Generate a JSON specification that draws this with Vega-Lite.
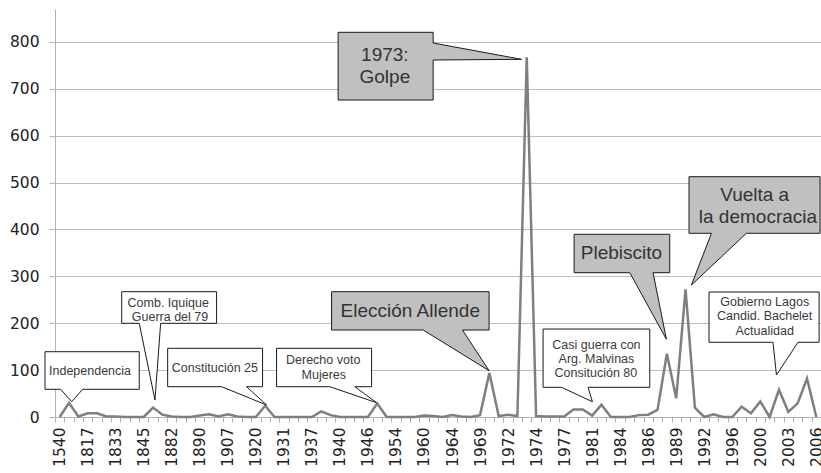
{
  "$schema": "https://vega.github.io/schema/vega-lite/v6.json",
  "autosize": {"type": "none"},
  "padding": {"left": 55, "top": 9, "right": 0, "bottom": 56},
  "width": 766,
  "height": 408,
  "background": "#ffffff",
  "config": {"view": {"stroke": null}},
  "datasets": {
    "serie": [
      {"anio": "1540", "valor": 0}, {"anio": "1810", "valor": 30}, {"anio": "1814", "valor": 1},
      {"anio": "1817", "valor": 8}, {"anio": "1818", "valor": 8}, {"anio": "1823", "valor": 1},
      {"anio": "1833", "valor": 1}, {"anio": "1837", "valor": 0}, {"anio": "1839", "valor": 0},
      {"anio": "1845", "valor": 0}, {"anio": "1879", "valor": 20}, {"anio": "1880", "valor": 5},
      {"anio": "1882", "valor": 1}, {"anio": "1884", "valor": 0}, {"anio": "1886", "valor": 0},
      {"anio": "1890", "valor": 3}, {"anio": "1891", "valor": 6}, {"anio": "1900", "valor": 1},
      {"anio": "1907", "valor": 6}, {"anio": "1910", "valor": 1}, {"anio": "1915", "valor": 0},
      {"anio": "1920", "valor": 0}, {"anio": "1925", "valor": 24}, {"anio": "1927", "valor": 0},
      {"anio": "1931", "valor": 0}, {"anio": "1932", "valor": 0}, {"anio": "1936", "valor": 0},
      {"anio": "1937", "valor": 0}, {"anio": "1938", "valor": 12}, {"anio": "1939", "valor": 4},
      {"anio": "1940", "valor": 0}, {"anio": "1942", "valor": 0}, {"anio": "1944", "valor": 0},
      {"anio": "1946", "valor": 0}, {"anio": "1949", "valor": 29}, {"anio": "1952", "valor": 0},
      {"anio": "1954", "valor": 0}, {"anio": "1956", "valor": 0}, {"anio": "1958", "valor": 0},
      {"anio": "1960", "valor": 3}, {"anio": "1961", "valor": 2}, {"anio": "1962", "valor": 0},
      {"anio": "1964", "valor": 4}, {"anio": "1965", "valor": 1}, {"anio": "1967", "valor": 0},
      {"anio": "1969", "valor": 4}, {"anio": "1970", "valor": 94}, {"anio": "1971", "valor": 2},
      {"anio": "1972", "valor": 5}, {"anio": "1973 (mar)", "valor": 2}, {"anio": "1973 (sep)", "valor": 767},
      {"anio": "1974", "valor": 2}, {"anio": "1975", "valor": 1}, {"anio": "1976", "valor": 1},
      {"anio": "1977", "valor": 1}, {"anio": "1978", "valor": 16}, {"anio": "1980", "valor": 16},
      {"anio": "1981", "valor": 3}, {"anio": "1982", "valor": 26}, {"anio": "1983", "valor": 0},
      {"anio": "1984", "valor": 0}, {"anio": "1985 (I)", "valor": 0}, {"anio": "1985 (II)", "valor": 4},
      {"anio": "1986", "valor": 5}, {"anio": "1987", "valor": 15}, {"anio": "1988", "valor": 135},
      {"anio": "1989", "valor": 40}, {"anio": "1990", "valor": 272}, {"anio": "1991", "valor": 20},
      {"anio": "1992", "valor": 0}, {"anio": "1993", "valor": 6}, {"anio": "1994", "valor": 0},
      {"anio": "1996", "valor": 0}, {"anio": "1997", "valor": 22}, {"anio": "1998", "valor": 8},
      {"anio": "2000", "valor": 33}, {"anio": "2001", "valor": 0}, {"anio": "2002", "valor": 58},
      {"anio": "2003", "valor": 11}, {"anio": "2004", "valor": 29}, {"anio": "2005", "valor": 82},
      {"anio": "2006", "valor": 0}
    ],
    "globos": [
      {"id": "g1", "tipo": "blanco", "k": 1, "ax": -1.57, "ay": 139.2},
      {"id": "g1", "tipo": "blanco", "k": 2, "ax": 8.52, "ay": 139.2},
      {"id": "g1", "tipo": "blanco", "k": 3, "ax": 8.52, "ay": 59.1},
      {"id": "g1", "tipo": "blanco", "k": 4, "ax": 2.46, "ay": 59.1},
      {"id": "g1", "tipo": "blanco", "k": 5, "ax": 1.29, "ay": 32.6},
      {"id": "g1", "tipo": "blanco", "k": 6, "ax": 0.11, "ay": 59.1},
      {"id": "g1", "tipo": "blanco", "k": 7, "ax": -1.57, "ay": 59.1},

      {"id": "g2", "tipo": "blanco", "k": 1, "ax": 6.64, "ay": 267.2},
      {"id": "g2", "tipo": "blanco", "k": 2, "ax": 16.80, "ay": 267.2},
      {"id": "g2", "tipo": "blanco", "k": 3, "ax": 16.80, "ay": 199.8},
      {"id": "g2", "tipo": "blanco", "k": 4, "ax": 10.81, "ay": 199.8},
      {"id": "g2", "tipo": "blanco", "k": 5, "ax": 10.20, "ay": 36.2},
      {"id": "g2", "tipo": "blanco", "k": 6, "ax": 8.52, "ay": 199.8},
      {"id": "g2", "tipo": "blanco", "k": 7, "ax": 6.64, "ay": 199.8},

      {"id": "g3", "tipo": "blanco", "k": 1, "ax": 11.56, "ay": 146.5},
      {"id": "g3", "tipo": "blanco", "k": 2, "ax": 21.72, "ay": 146.5},
      {"id": "g3", "tipo": "blanco", "k": 3, "ax": 21.72, "ay": 64.6},
      {"id": "g3", "tipo": "blanco", "k": 4, "ax": 20.01, "ay": 64.6},
      {"id": "g3", "tipo": "blanco", "k": 5, "ax": 22.15, "ay": 25.6},
      {"id": "g3", "tipo": "blanco", "k": 6, "ax": 17.34, "ay": 64.6},
      {"id": "g3", "tipo": "blanco", "k": 7, "ax": 11.56, "ay": 64.6},

      {"id": "g4", "tipo": "blanco", "k": 1, "ax": 23.22, "ay": 146.5},
      {"id": "g4", "tipo": "blanco", "k": 2, "ax": 33.39, "ay": 146.5},
      {"id": "g4", "tipo": "blanco", "k": 3, "ax": 33.39, "ay": 64.6},
      {"id": "g4", "tipo": "blanco", "k": 4, "ax": 31.60, "ay": 64.6},
      {"id": "g4", "tipo": "blanco", "k": 5, "ax": 33.92, "ay": 30.5},
      {"id": "g4", "tipo": "blanco", "k": 6, "ax": 28.92, "ay": 64.6},
      {"id": "g4", "tipo": "blanco", "k": 7, "ax": 23.22, "ay": 64.6},

      {"id": "g5", "tipo": "gris", "k": 1, "ax": 29.11, "ay": 267.2},
      {"id": "g5", "tipo": "gris", "k": 2, "ax": 45.97, "ay": 267.2},
      {"id": "g5", "tipo": "gris", "k": 3, "ax": 45.97, "ay": 185.5},
      {"id": "g5", "tipo": "gris", "k": 4, "ax": 43.12, "ay": 185.5},
      {"id": "g5", "tipo": "gris", "k": 5, "ax": 45.97, "ay": 98.7},
      {"id": "g5", "tipo": "gris", "k": 6, "ax": 38.91, "ay": 185.5},
      {"id": "g5", "tipo": "gris", "k": 7, "ax": 29.11, "ay": 185.5},

      {"id": "g6", "tipo": "gris", "k": 1, "ax": 29.81, "ay": 820.3},
      {"id": "g6", "tipo": "gris", "k": 2, "ax": 39.98, "ay": 820.3},
      {"id": "g6", "tipo": "gris", "k": 3, "ax": 39.98, "ay": 797.5},
      {"id": "g6", "tipo": "gris", "k": 4, "ax": 49.44, "ay": 762.7},
      {"id": "g6", "tipo": "gris", "k": 5, "ax": 39.98, "ay": 761.2},
      {"id": "g6", "tipo": "gris", "k": 6, "ax": 39.98, "ay": 675.9},
      {"id": "g6", "tipo": "gris", "k": 7, "ax": 29.81, "ay": 675.9},

      {"id": "g7", "tipo": "blanco", "k": 1, "ax": 51.75, "ay": 187.6},
      {"id": "g7", "tipo": "blanco", "k": 2, "ax": 63.17, "ay": 187.6},
      {"id": "g7", "tipo": "blanco", "k": 3, "ax": 63.17, "ay": 63.3},
      {"id": "g7", "tipo": "blanco", "k": 4, "ax": 56.56, "ay": 63.3},
      {"id": "g7", "tipo": "blanco", "k": 5, "ax": 57.03, "ay": 32.6},
      {"id": "g7", "tipo": "blanco", "k": 6, "ax": 53.72, "ay": 63.3},
      {"id": "g7", "tipo": "blanco", "k": 7, "ax": 51.75, "ay": 63.3},

      {"id": "g8", "tipo": "gris", "k": 1, "ax": 55.07, "ay": 389.6},
      {"id": "g8", "tipo": "gris", "k": 2, "ax": 65.31, "ay": 389.6},
      {"id": "g8", "tipo": "gris", "k": 3, "ax": 65.31, "ay": 307.7},
      {"id": "g8", "tipo": "gris", "k": 4, "ax": 63.52, "ay": 307.7},
      {"id": "g8", "tipo": "gris", "k": 5, "ax": 64.95, "ay": 165.7},
      {"id": "g8", "tipo": "gris", "k": 6, "ax": 61.03, "ay": 307.7},
      {"id": "g8", "tipo": "gris", "k": 7, "ax": 55.07, "ay": 307.7},

      {"id": "g9", "tipo": "gris", "k": 1, "ax": 67.37, "ay": 512.4},
      {"id": "g9", "tipo": "gris", "k": 2, "ax": 81.4, "ay": 512.4},
      {"id": "g9", "tipo": "gris", "k": 3, "ax": 81.4, "ay": 391.7},
      {"id": "g9", "tipo": "gris", "k": 4, "ax": 73.51, "ay": 391.7},
      {"id": "g9", "tipo": "gris", "k": 5, "ax": 67.63, "ay": 281.4},
      {"id": "g9", "tipo": "gris", "k": 6, "ax": 69.77, "ay": 391.7},
      {"id": "g9", "tipo": "gris", "k": 7, "ax": 67.37, "ay": 391.7},

      {"id": "g10", "tipo": "blanco", "k": 1, "ax": 69.51, "ay": 266.5},
      {"id": "g10", "tipo": "blanco", "k": 2, "ax": 81.3, "ay": 266.5},
      {"id": "g10", "tipo": "blanco", "k": 3, "ax": 81.3, "ay": 159.3},
      {"id": "g10", "tipo": "blanco", "k": 4, "ax": 79.04, "ay": 159.3},
      {"id": "g10", "tipo": "blanco", "k": 5, "ax": 76.73, "ay": 89.6},
      {"id": "g10", "tipo": "blanco", "k": 6, "ax": 76.36, "ay": 159.3},
      {"id": "g10", "tipo": "blanco", "k": 7, "ax": 69.51, "ay": 159.3}
    ],
    "textos": [
      {"tipo": "blanco", "texto": "Independencia", "ax": 3.25, "ay": 98.7},
      {"tipo": "blanco", "texto": "Comb. Iquique", "ax": 11.62, "ay": 244.1},
      {"tipo": "blanco", "texto": "Guerra del 79", "ax": 11.81, "ay": 213.9},
      {"tipo": "blanco", "texto": "Constitución 25", "ax": 16.62, "ay": 103.8},
      {"tipo": "blanco", "texto": "Derecho voto", "ax": 28.21, "ay": 121.0},
      {"tipo": "blanco", "texto": "Mujeres", "ax": 28.28, "ay": 89.6},
      {"tipo": "blanco", "texto": "Casi guerra con", "ax": 57.46, "ay": 154.5},
      {"tipo": "blanco", "texto": "Arg. Malvinas", "ax": 57.46, "ay": 124.2},
      {"tipo": "blanco", "texto": "Consitución 80", "ax": 57.4, "ay": 94.0},
      {"tipo": "blanco", "texto": "Gobierno Lagos", "ax": 75.47, "ay": 245.6},
      {"tipo": "blanco", "texto": "Candid. Bachelet", "ax": 75.47, "ay": 214.4},
      {"tipo": "blanco", "texto": "Actualidad", "ax": 75.47, "ay": 183.0},
      {"tipo": "gris", "texto": "Elección Allende", "ax": 37.53, "ay": 226},
      {"tipo": "gris", "texto": "1973:", "ax": 34.81, "ay": 771.9},
      {"tipo": "gris", "texto": "Golpe", "ax": 34.81, "ay": 725.6},
      {"tipo": "gris", "texto": "Plebiscito", "ax": 60.14, "ay": 349},
      {"tipo": "gris", "texto": "Vuelta a", "ax": 74.4, "ay": 473.3},
      {"tipo": "gris", "texto": "la democracia", "ax": 74.75, "ay": 427}
    ]
  },
  "layer": [
    {
      "data": {"name": "serie"},
      "mark": {"type": "line", "color": "#7f7f7f", "strokeWidth": 2.5},
      "encoding": {
        "x": {
          "field": "anio", "type": "ordinal", "sort": null,
          "scale": {"type": "band", "paddingInner": 0, "paddingOuter": 0},
          "axis": {
            "title": null,
            "labelExpr": "indexof(['1540','1817','1833','1845','1882','1890','1907','1920','1931','1937','1940','1946','1954','1960','1964','1969','1972','1974','1977','1981','1984','1986','1989','1992','1996','2000','2003','2006'], datum.value) >= 0 ? datum.value : ''",
            "labelAngle": 270,
            "labelAlign": "right",
            "labelBaseline": "middle",
            "labelFont": "DejaVu Sans",
            "labelFontSize": 15.5,
            "labelColor": "#222222",
            "labelPadding": 5,
            "labelOverlap": false,
            "labelBound": false,
            "tickBand": "extent",
            "tickSize": 5,
            "tickColor": "#b3b3b3",
            "domainColor": "#b3b3b3",
            "grid": false
          }
        },
        "y": {
          "field": "valor", "type": "quantitative",
          "scale": {"domain": [0, 870], "nice": false},
          "axis": {
            "title": null,
            "values": [0, 100, 200, 300, 400, 500, 600, 700, 800],
            "grid": true,
            "gridColor": "#bdbdbd",
            "domainColor": "#b3b3b3",
            "tickColor": "#b3b3b3",
            "tickSize": 6,
            "labelFont": "DejaVu Sans",
            "labelFontSize": 15.5,
            "labelColor": "#222222",
            "labelPadding": 10
          }
        }
      }
    },
    {
      "data": {"name": "globos"},
      "mark": {"type": "line", "interpolate": "linear-closed", "stroke": "#1a1a1a", "strokeWidth": 1},
      "encoding": {
        "x": {"field": "ax", "type": "quantitative", "scale": {"domain": [-0.5, 81.5], "nice": false, "zero": false}, "axis": null},
        "y": {"field": "ay", "type": "quantitative", "scale": {"domain": [0, 870], "nice": false}},
        "detail": {"field": "id"},
        "order": {"field": "k"},
        "fill": {"field": "tipo", "type": "nominal", "scale": {"domain": ["gris", "blanco"], "range": ["#c0c0c0", "#ffffff"]}, "legend": null}
      }
    },
    {
      "data": {"name": "textos"},
      "mark": {"type": "text", "font": "Liberation Sans", "align": "center", "baseline": "middle"},
      "encoding": {
        "x": {"field": "ax", "type": "quantitative", "scale": {"domain": [-0.5, 81.5], "nice": false, "zero": false}, "axis": null},
        "y": {"field": "ay", "type": "quantitative", "scale": {"domain": [0, 870], "nice": false}},
        "text": {"field": "texto"},
        "size": {"field": "tipo", "type": "nominal", "scale": {"domain": ["gris", "blanco"], "range": [19, 12.5]}, "legend": null},
        "color": {"field": "tipo", "type": "nominal", "scale": {"domain": ["gris", "blanco"], "range": ["#333333", "#3a3a3a"]}, "legend": null}
      }
    }
  ],
  "resolve": {"scale": {"x": "independent"}, "axis": {"x": "independent"}}
}
